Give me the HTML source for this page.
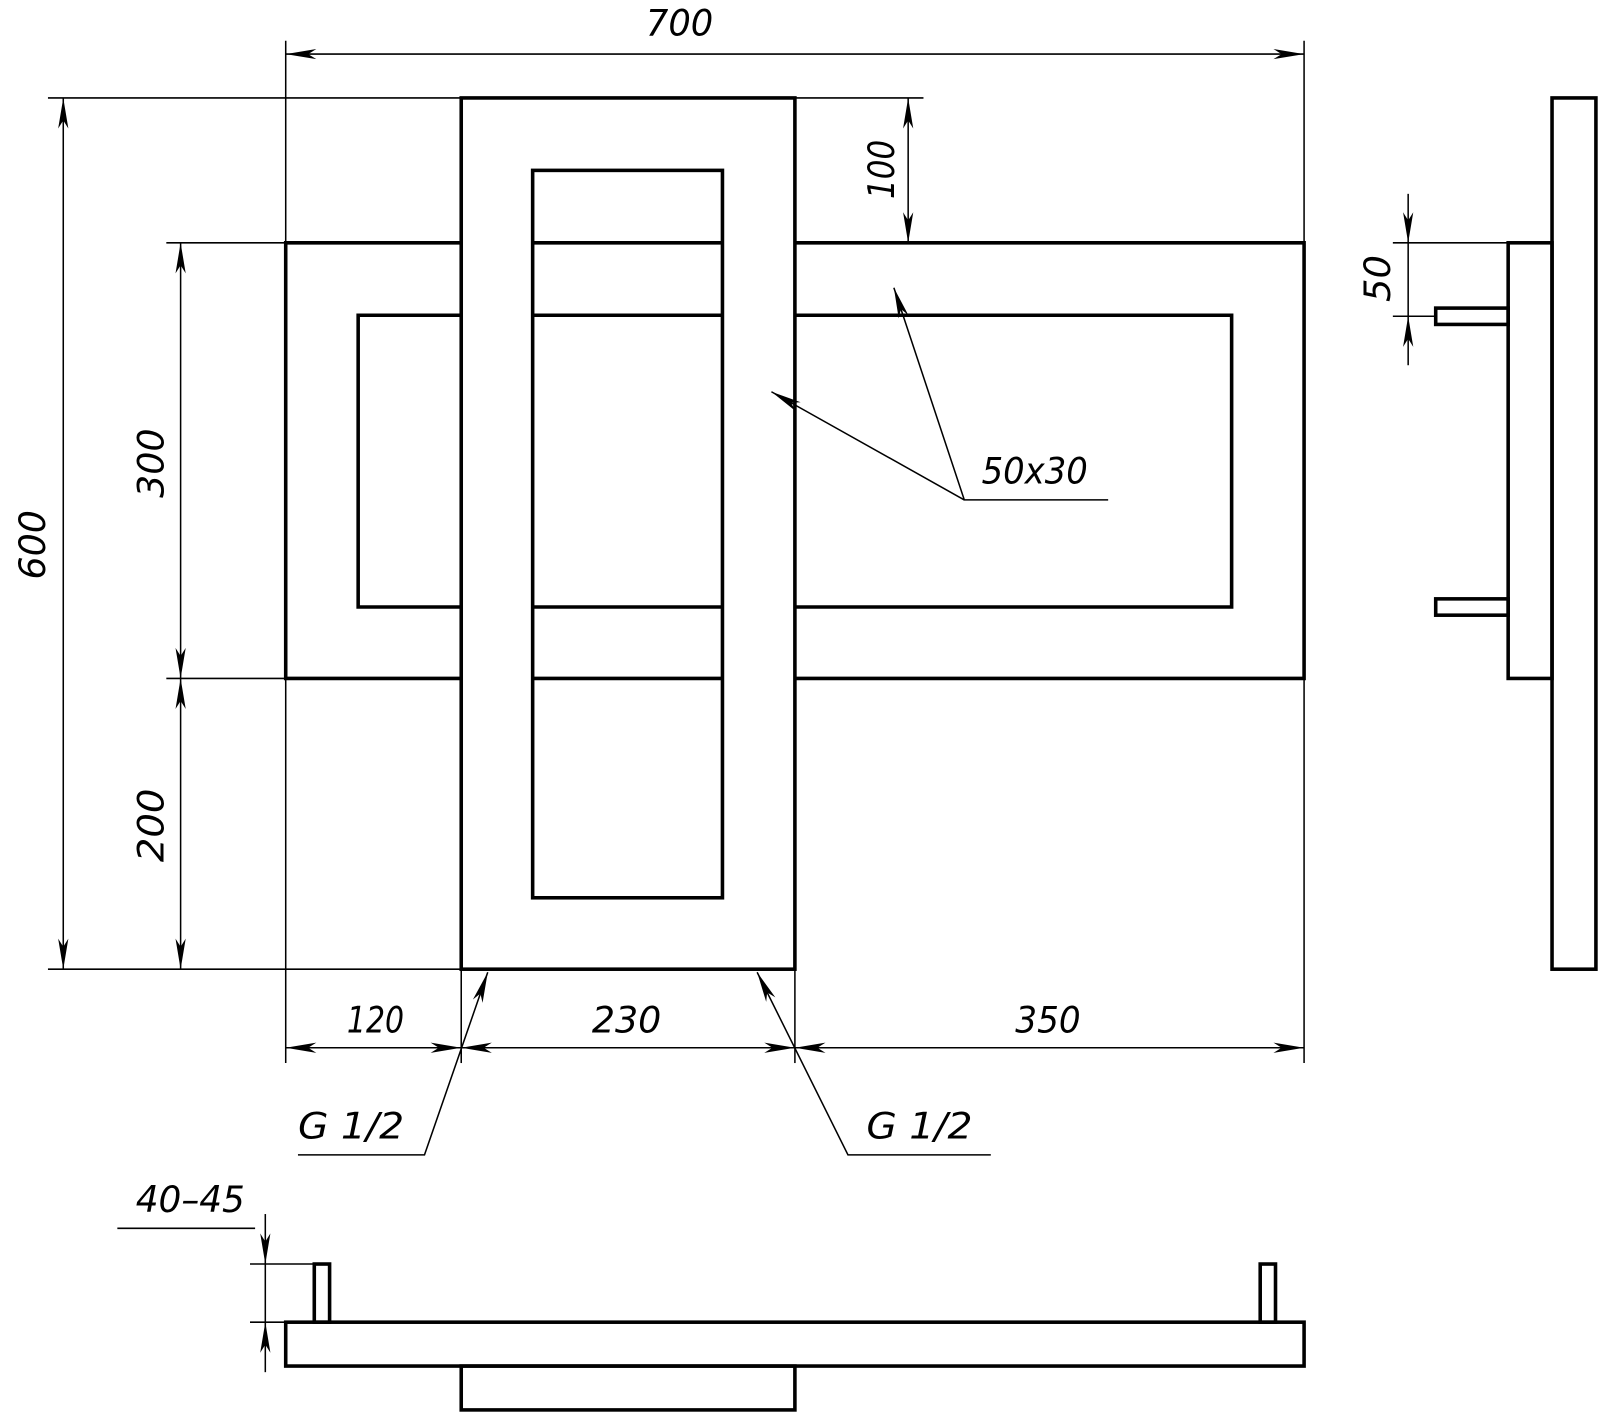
<!DOCTYPE html>
<html><head><meta charset="utf-8"><style>
html,body{margin:0;padding:0;background:#fff;}
svg{display:block;}
text{font-family:"DejaVu Sans Condensed","Liberation Sans",sans-serif;font-style:italic;font-weight:200;fill:#000;font-size:36px;}
</style></head><body>
<svg width="1600" height="1414" viewBox="0 0 1568 1386" preserveAspectRatio="none" xmlns="http://www.w3.org/2000/svg">
<defs>
<marker id="a" viewBox="-32 -6 34 12" markerWidth="34" markerHeight="12" refX="0" refY="0" orient="auto-start-reverse" markerUnits="userSpaceOnUse">
<path d="M0,0 L-30,-5 L-22,0 L-30,5 z" fill="#000"/>
</marker>
</defs>
<g fill="none" stroke="#000" stroke-width="1.5">
<!-- extension lines -->
<line x1="280" y1="40" x2="280" y2="1042"/>
<line x1="1278" y1="40" x2="1278" y2="1042"/>
<line x1="452" y1="950" x2="452" y2="1042"/>
<line x1="779" y1="950" x2="779" y2="1042"/>
<line x1="47" y1="96" x2="905" y2="96"/>
<line x1="47" y1="950" x2="452" y2="950"/>
<line x1="163" y1="238" x2="280" y2="238"/>
<line x1="163" y1="665" x2="280" y2="665"/>
<!-- dimension lines -->
<line x1="280" y1="53" x2="1278" y2="53" marker-start="url(#a)" marker-end="url(#a)"/>
<line x1="62" y1="96" x2="62" y2="950" marker-start="url(#a)" marker-end="url(#a)"/>
<line x1="177" y1="238" x2="177" y2="665" marker-start="url(#a)" marker-end="url(#a)"/>
<line x1="177" y1="665" x2="177" y2="950" marker-start="url(#a)" marker-end="url(#a)"/>
<line x1="890" y1="96" x2="890" y2="238" marker-start="url(#a)" marker-end="url(#a)"/>
<line x1="280" y1="1027" x2="452" y2="1027" marker-start="url(#a)" marker-end="url(#a)"/>
<line x1="452" y1="1027" x2="779" y2="1027" marker-start="url(#a)" marker-end="url(#a)"/>
<line x1="779" y1="1027" x2="1278" y2="1027" marker-start="url(#a)" marker-end="url(#a)"/>
<!-- leaders -->
<polyline points="292,1132 416,1132 478,953" marker-end="url(#a)"/>
<polyline points="971,1132 831,1132 742,953" marker-end="url(#a)"/>
<polyline points="1086,490 945,490 876,282" marker-end="url(#a)"/>
<line x1="945" y1="490" x2="756" y2="384" marker-end="url(#a)"/>
<!-- side view dim -->
<line x1="1365" y1="238" x2="1478" y2="238"/>
<line x1="1365" y1="310" x2="1407" y2="310"/>
<line x1="1380" y1="190" x2="1380" y2="238" marker-end="url(#a)"/>
<line x1="1380" y1="358" x2="1380" y2="310" marker-end="url(#a)"/>
<line x1="1380" y1="238" x2="1380" y2="310"/>
<!-- bottom view dim -->
<line x1="115" y1="1204" x2="250" y2="1204"/>
<line x1="245" y1="1239" x2="308" y2="1239"/>
<line x1="245" y1="1296" x2="280" y2="1296"/>
<line x1="260" y1="1190" x2="260" y2="1239" marker-end="url(#a)"/>
<line x1="260" y1="1345" x2="260" y2="1296" marker-end="url(#a)"/>
<line x1="260" y1="1239" x2="260" y2="1296"/>
</g>
<g fill="none" stroke="#000" stroke-width="3.5" stroke-linejoin="miter">
<!-- horizontal frame -->
<polyline points="452,238 280,238 280,665 452,665"/>
<polyline points="779,238 1278,238 1278,665 779,665"/>
<polyline points="452,309 351,309 351,595 452,595"/>
<polyline points="779,309 1207,309 1207,595 779,595"/>
<line x1="522" y1="238" x2="708" y2="238"/>
<line x1="522" y1="309" x2="708" y2="309"/>
<line x1="522" y1="595" x2="708" y2="595"/>
<line x1="522" y1="665" x2="708" y2="665"/>
<!-- vertical frame -->
<rect x="452" y="96" width="327" height="854"/>
<rect x="522" y="167" width="186" height="713"/>
<!-- side view -->
<rect x="1521" y="96" width="43" height="854"/>
<rect x="1478" y="238" width="43" height="427"/>
<rect x="1407" y="302" width="71" height="16"/>
<rect x="1407" y="587" width="71" height="16"/>
<!-- bottom view -->
<rect x="280" y="1296" width="998" height="43"/>
<rect x="452" y="1339" width="327" height="43"/>
<rect x="308" y="1239" width="15" height="57"/>
<rect x="1235" y="1239" width="15" height="57"/>
</g>
<text x="633" y="35" textLength="66" lengthAdjust="spacingAndGlyphs">700</text>
<text transform="translate(44,568) rotate(-90)" textLength="68" lengthAdjust="spacingAndGlyphs">600</text>
<text transform="translate(160,488) rotate(-90)" textLength="68" lengthAdjust="spacingAndGlyphs">300</text>
<text transform="translate(160,845) rotate(-90)" textLength="72" lengthAdjust="spacingAndGlyphs">200</text>
<text transform="translate(876,195) rotate(-90)" textLength="58" lengthAdjust="spacingAndGlyphs">100</text>
<text transform="translate(1362,296) rotate(-90)" textLength="46" lengthAdjust="spacingAndGlyphs">50</text>
<text x="340" y="1012" textLength="56" lengthAdjust="spacingAndGlyphs">120</text>
<text x="580" y="1012" textLength="68" lengthAdjust="spacingAndGlyphs">230</text>
<text x="995" y="1012" textLength="64" lengthAdjust="spacingAndGlyphs">350</text>
<text x="962" y="474" textLength="104" lengthAdjust="spacingAndGlyphs">50x30</text>
<text x="292" y="1116" textLength="104" lengthAdjust="spacingAndGlyphs">G 1/2</text>
<text x="849" y="1116" textLength="104" lengthAdjust="spacingAndGlyphs">G 1/2</text>
<text x="133" y="1188" textLength="107" lengthAdjust="spacingAndGlyphs">40–45</text>
</svg>
</body></html>
